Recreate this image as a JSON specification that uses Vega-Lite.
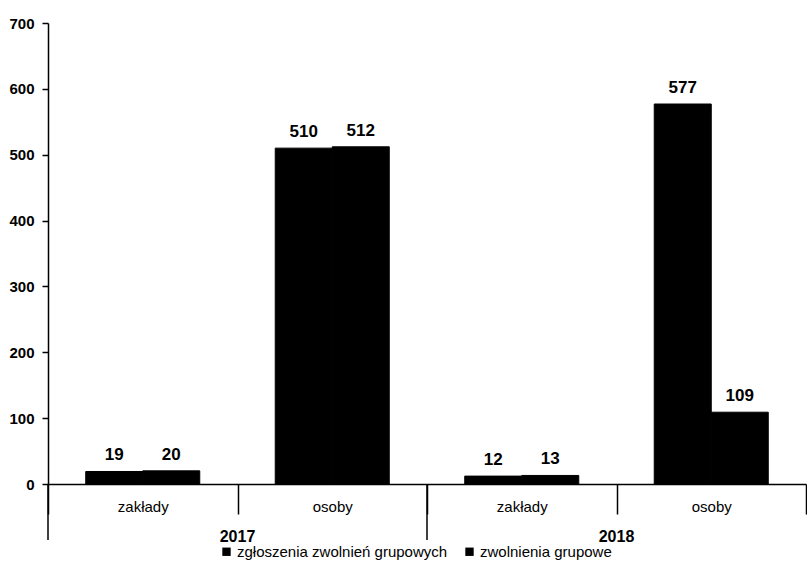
{
  "$schema": "https://vega.github.io/schema/vega-lite/v6.json",
  "padding": {"left": 8, "top": 16, "right": 0, "bottom": 5},
  "background": "white",
  "width": 758,
  "height": 461,
  "layer": [
    {
      "data": {"values": [
        {"key": "2017|zakłady", "series": "zgłoszenia zwolnień grupowych", "value": 19},
        {"key": "2017|zakłady", "series": "zwolnienia grupowe", "value": 20},
        {"key": "2017|osoby", "series": "zgłoszenia zwolnień grupowych", "value": 510},
        {"key": "2017|osoby", "series": "zwolnienia grupowe", "value": 512},
        {"key": "2018|zakłady", "series": "zgłoszenia zwolnień grupowych", "value": 12},
        {"key": "2018|zakłady", "series": "zwolnienia grupowe", "value": 13},
        {"key": "2018|osoby", "series": "zgłoszenia zwolnień grupowych", "value": 577},
        {"key": "2018|osoby", "series": "zwolnienia grupowe", "value": 109}
      ]},
      "encoding": {
        "x": {"field": "key", "type": "nominal", "title": null,
          "scale": {"domain": ["2017|zakłady", "2017|osoby", "2018|zakłady", "2018|osoby"], "paddingInner": 0, "paddingOuter": 0},
          "axis": {"labelExpr": "split(datum.value, '|')[1]", "tickBand": "extent", "tickSize": 30, "labelPadding": -15, "labelAngle": 0, "domainColor": "black", "tickColor": "black", "domainWidth": 1.5, "tickWidth": 1.5, "labelFont": "Liberation Sans", "labelFontSize": 15, "labelColor": "black"}},
        "y": {"field": "value", "type": "quantitative", "title": null,
          "scale": {"domain": [0, 700], "nice": false},
          "axis": {"values": [0, 100, 200, 300, 400, 500, 600, 700], "grid": false, "domainColor": "black", "tickColor": "black", "domainWidth": 1.5, "tickWidth": 1.5, "tickSize": 6, "labelPadding": 8, "labelFont": "Liberation Sans", "labelFontSize": 15, "labelFontWeight": "bold", "labelColor": "black"}},
        "xOffset": {"field": "series", "type": "nominal", "scale": {"paddingInner": 0, "paddingOuter": 0.662}}
      },
      "layer": [
        {"mark": {"type": "bar", "stroke": "black", "strokeWidth": 1},
         "encoding": {
           "color": {"field": "series", "type": "nominal", "title": null,
             "scale": {"range": ["black", "black"]},
             "legend": {"orient": "none", "legendX": 171, "legendY": 521, "direction": "horizontal", "symbolType": "square", "symbolSize": 70, "symbolStrokeWidth": 0, "labelFont": "Liberation Sans", "labelFontSize": 15, "labelColor": "black", "labelLimit": 400, "columnPadding": 14, "labelOffset": 3}}}},
        {"mark": {"type": "text", "dy": -16, "font": "Liberation Sans", "fontSize": 17, "fontWeight": "bold", "color": "black"},
         "encoding": {"text": {"field": "value", "type": "quantitative"}}}
      ]
    },
    {
      "data": {"values": [
        {"year": "2017", "anchor": "2017|osoby", "start": "2017|zakłady"},
        {"year": "2018", "anchor": "2018|osoby", "start": "2018|zakłady"}
      ]},
      "layer": [
        {"mark": {"type": "text", "font": "Liberation Sans", "fontSize": 16, "fontWeight": "bold", "color": "black", "baseline": "middle", "clip": false},
         "encoding": {
           "x": {"field": "anchor", "type": "nominal", "bandPosition": 0},
           "y": {"datum": -81},
           "text": {"field": "year", "type": "nominal"}}},
        {"mark": {"type": "rule", "color": "black", "strokeWidth": 1.5, "clip": false},
         "encoding": {
           "x": {"field": "start", "type": "nominal", "bandPosition": 0},
           "y": {"datum": 0},
           "y2": {"datum": -85}}}
      ]
    }
  ],
  "config": {"view": {"stroke": null}}
}
